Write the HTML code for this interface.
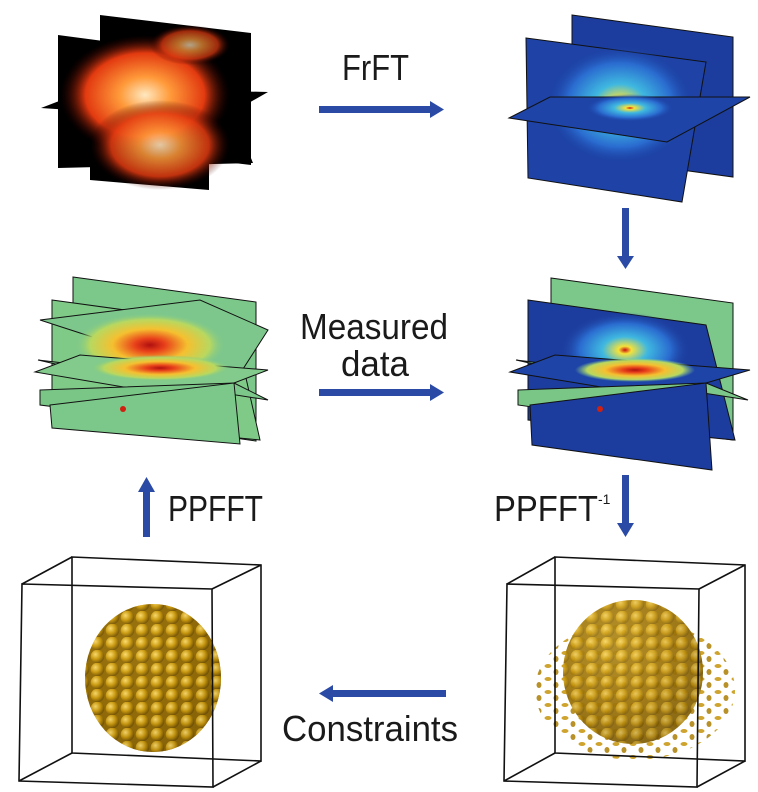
<!DOCTYPE html>
<html><head><meta charset="utf-8">
<style>
html,body{margin:0;padding:0;background:#fff;}
svg{display:block;}
text{font-family:"Liberation Sans Narrow","Liberation Sans",sans-serif;fill:#1a1a1a;}
</style></head>
<body>
<svg width="758" height="792" viewBox="0 0 758 792">
<defs>
  <radialGradient id="hot" cx="50%" cy="50%" r="50%">
    <stop offset="0" stop-color="#ffe8c0"/><stop offset="0.3" stop-color="#ff9a3a"/>
    <stop offset="0.7" stop-color="#e23a10"/><stop offset="1" stop-color="#300" stop-opacity="0"/>
  </radialGradient>
  <radialGradient id="bluehot" cx="50%" cy="50%" r="50%">
    <stop offset="0" stop-color="#c81010"/><stop offset="0.1" stop-color="#f5e23a"/>
    <stop offset="0.35" stop-color="#3fb8e0"/><stop offset="0.7" stop-color="#2a6cd0"/>
    <stop offset="1" stop-color="#1b3c9e" stop-opacity="0"/>
  </radialGradient>
  <radialGradient id="greenhot" cx="50%" cy="50%" r="50%">
    <stop offset="0" stop-color="#b01010"/><stop offset="0.2" stop-color="#e8401a"/>
    <stop offset="0.5" stop-color="#f5c030"/><stop offset="0.8" stop-color="#b8d860"/>
    <stop offset="1" stop-color="#7cc88a" stop-opacity="0"/>
  </radialGradient>
  <radialGradient id="gold" cx="35%" cy="30%" r="70%">
    <stop offset="0" stop-color="#f0c840"/><stop offset="0.6" stop-color="#c0900f"/><stop offset="1" stop-color="#7a5a08"/>
  </radialGradient>
  <radialGradient id="bump" cx="35%" cy="35%" r="65%">
    <stop offset="0" stop-color="#ffe27a"/><stop offset="0.55" stop-color="#c8980f"/><stop offset="1" stop-color="#6e4f05"/>
  </radialGradient>
  <pattern id="bumps" width="15" height="13" patternUnits="userSpaceOnUse">
    <rect width="15" height="13" fill="#8a6508"/>
    <circle cx="7.5" cy="6.5" r="6.8" fill="url(#bump)"/>
  </pattern>
  <pattern id="specks" width="17" height="13" patternUnits="userSpaceOnUse">
    <ellipse cx="4" cy="3" rx="3.5" ry="2" fill="#c99a18"/>
    <ellipse cx="12" cy="9" rx="2.5" ry="3" fill="#b08510"/>
  </pattern>
  <clipPath id="ballL"><ellipse cx="153" cy="678" rx="68" ry="74"/></clipPath>
  <clipPath id="ballR"><ellipse cx="633" cy="672" rx="70" ry="72"/></clipPath>
  <clipPath id="scatR"><ellipse cx="635" cy="690" rx="100" ry="70"/></clipPath>
</defs>

<g>
  <polygon points="100,15 251,33 251,165 100,147" fill="#000"/>
  <polygon points="58,35 209,55 253,163 58,168" fill="#000"/>
  <polygon points="90,100 209,110 209,190 90,180" fill="#000"/>
  <polygon points="41,108 93,88 268,92 219,120" fill="#000"/>
  <ellipse cx="145" cy="95" rx="85" ry="60" fill="url(#hot)"/>
  <ellipse cx="160" cy="145" rx="70" ry="45" fill="url(#hot)" opacity="0.85"/>
  <ellipse cx="190" cy="45" rx="40" ry="20" fill="url(#hot)" opacity="0.7"/>
</g>

<g stroke="#111" stroke-width="1">
  <polygon points="572,15 733,37 733,177 572,155" fill="#1c3d9e"/>
  <polygon points="526,38 706,62 682,202 528,178" fill="#1e42a6"/>
  <ellipse cx="620" cy="105" rx="75" ry="60" fill="url(#bluehot)" stroke="none"/>
  <polygon points="509,118 550,97 750,97 667,142" fill="#1e44a8"/>
  <ellipse cx="630" cy="108" rx="45" ry="14" fill="url(#bluehot)" stroke="none"/>
</g>

<g stroke="#111" stroke-width="1">
  <polygon points="73,277 256,302 256,441 73,415" fill="#7cc88a"/>
  <polygon points="52,300 234,325 260,440 52,420" fill="#80ca88"/>
  <polygon points="40,320 234,383 268,330 200,300" fill="#7ec78c"/>
  <ellipse cx="150" cy="345" rx="75" ry="32" fill="url(#greenhot)" stroke="none"/>
  <polygon points="38,360 234,383 268,400 90,372" fill="#7cc88a"/>
  <polygon points="35,372 80,355 268,370 234,383 200,400" fill="#82cb8c"/>
  <ellipse cx="160" cy="368" rx="70" ry="13" fill="url(#greenhot)" stroke="none"/>
  <polygon points="40,390 234,383 200,425 40,405" fill="#7ac687"/>
  <polygon points="50,405 234,383 240,444 52,428" fill="#7cc88a"/>
  <circle cx="123" cy="409" r="3" fill="#d02010" stroke="none"/>
</g>

<g stroke="#111" stroke-width="1">
  <polygon points="551,278 733,303 733,440 551,415" fill="#7cc88a"/>
  <polygon points="528,300 706,325 735,440 528,420" fill="#1c3d9e"/>
  <ellipse cx="625" cy="350" rx="65" ry="38" fill="url(#bluehot)" stroke="none"/>
  <polygon points="516,360 706,383 748,400 570,372" fill="#7cc88a"/>
  <polygon points="510,372 555,355 750,370 706,383 680,400" fill="#1e44a8"/>
  <ellipse cx="635" cy="370" rx="60" ry="12" fill="url(#greenhot)" stroke="none"/>
  <polygon points="518,390 706,383 680,428 518,405" fill="#7ac687"/>
  <polygon points="530,405 706,383 712,470 532,445" fill="#1c3d9e"/>
  <circle cx="600" cy="409" r="3" fill="#d02010" stroke="none"/>
</g>

<g>
  <ellipse cx="153" cy="678" rx="68" ry="74" fill="url(#gold)"/>
  <rect x="80" y="600" width="150" height="160" fill="url(#bumps)" clip-path="url(#ballL)" opacity="0.85"/>
</g>
<g fill="none" stroke="#111" stroke-width="1.6">
  <polygon points="72,557 261,565 261,761 72,753"/>
  <polygon points="22,584 212,589 213,787 19,781"/>
  <line x1="72" y1="557" x2="22" y2="584"/><line x1="261" y1="565" x2="212" y2="589"/>
  <line x1="261" y1="761" x2="213" y2="787"/><line x1="72" y1="753" x2="19" y2="781"/>
</g>

<g>
  <rect x="536" y="620" width="200" height="142" fill="url(#specks)" clip-path="url(#scatR)" opacity="0.9"/>
  <ellipse cx="633" cy="672" rx="70" ry="72" fill="url(#gold)" opacity="0.85"/>
  <rect x="560" y="600" width="150" height="150" fill="url(#bumps)" clip-path="url(#ballR)" opacity="0.6"/>
</g>
<g fill="none" stroke="#111" stroke-width="1.6">
  <polygon points="555,557 745,565 745,761 555,753"/>
  <polygon points="507,584 699,589 697,787 504,781"/>
  <line x1="555" y1="557" x2="507" y2="584"/><line x1="745" y1="565" x2="699" y2="589"/>
  <line x1="745" y1="761" x2="697" y2="787"/><line x1="555" y1="753" x2="504" y2="781"/>
</g>

<g fill="#2a4aa6">
  <g><rect x="319" y="106" width="112" height="7"/><polygon points="430,101 444,109.5 430,118"/></g>
  <g><rect x="319" y="389" width="112" height="7"/><polygon points="430,384 444,392.5 430,401"/></g>
  <g><rect x="333" y="690" width="113" height="7"/><polygon points="333,685 319,693.5 333,702"/></g>
  <g><rect x="622" y="208" width="7" height="50"/><polygon points="617,256 625.5,269 634,256"/></g>
  <g><rect x="622" y="475" width="7" height="50"/><polygon points="617,523 625.5,537 634,523"/></g>
  <g><rect x="143" y="490" width="7" height="47"/><polygon points="138,492 146.5,477 155,492"/></g>
</g>

<text x="342" y="80" font-size="36" textLength="67" lengthAdjust="spacingAndGlyphs">FrFT</text>
<text x="300" y="339" font-size="36" textLength="148" lengthAdjust="spacingAndGlyphs">Measured</text>
<text x="341" y="376" font-size="36" textLength="68" lengthAdjust="spacingAndGlyphs">data</text>
<text x="168" y="521" font-size="36" textLength="95" lengthAdjust="spacingAndGlyphs">PPFFT</text>
<text x="494" y="521" font-size="36" textLength="104" lengthAdjust="spacingAndGlyphs">PPFFT</text>
<text x="598" y="504" font-size="14">-1</text>
<text x="282" y="741" font-size="36" textLength="176" lengthAdjust="spacingAndGlyphs">Constraints</text>
</svg>
</body></html>
